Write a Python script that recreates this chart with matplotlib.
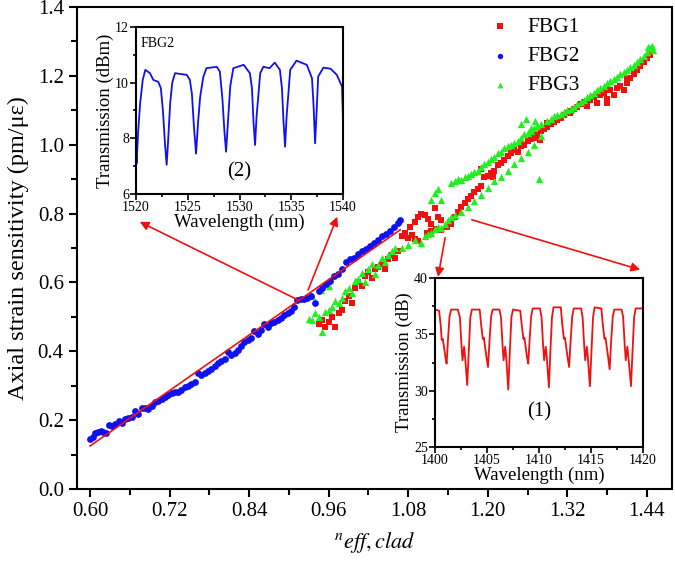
import matplotlib
matplotlib.use('Agg')
import matplotlib.pyplot as plt
from matplotlib.ticker import MultipleLocator, FormatStrFormatter

plt.rcParams['font.family'] = ['Liberation Serif', 'DejaVu Serif']
plt.rcParams['mathtext.fontset'] = 'stix'

# ---- main scatter data ----
fbg2_x = [0.600, 0.604, 0.608, 0.612, 0.616, 0.620, 0.624, 0.628, 0.633, 0.638,
          0.643, 0.648, 0.653, 0.658, 0.663, 0.668, 0.673, 0.678, 0.683, 0.688,
          0.693, 0.698, 0.703, 0.708, 0.713, 0.718, 0.723, 0.728, 0.733, 0.738,
          0.743, 0.748, 0.753, 0.758, 0.763, 0.768, 0.773, 0.778, 0.783, 0.788,
          0.793, 0.798, 0.803, 0.808, 0.813, 0.818, 0.823, 0.828, 0.833, 0.838,
          0.843, 0.848, 0.853, 0.858, 0.863, 0.868, 0.873, 0.878, 0.883, 0.888,
          0.893, 0.898, 0.903, 0.908, 0.913, 0.918, 0.923, 0.928, 0.933, 0.939,
          0.945, 0.950, 0.956, 0.962, 0.968, 0.974, 0.980, 0.986, 0.992, 0.998,
          1.004, 1.010, 1.016, 1.022, 1.028, 1.034, 1.040, 1.046, 1.052, 1.058,
          1.064, 1.068]
fbg2_y = [0.146, 0.150, 0.162, 0.166, 0.168, 0.166, 0.164, 0.186, 0.183, 0.190,
          0.197, 0.193, 0.202, 0.205, 0.208, 0.228, 0.218, 0.235, 0.236, 0.233,
          0.242, 0.252, 0.256, 0.262, 0.266, 0.272, 0.278, 0.283, 0.281, 0.288,
          0.297, 0.300, 0.306, 0.312, 0.338, 0.330, 0.336, 0.344, 0.350, 0.358,
          0.366, 0.372, 0.378, 0.398, 0.390, 0.394, 0.405, 0.416, 0.428, 0.432,
          0.440, 0.458, 0.450, 0.462, 0.478, 0.470, 0.482, 0.484, 0.490, 0.496,
          0.505, 0.512, 0.518, 0.530, 0.548, 0.552, 0.553, 0.556, 0.560, 0.540,
          0.575, 0.585, 0.595, 0.605, 0.618, 0.625, 0.640, 0.660, 0.668, 0.672,
          0.684, 0.690, 0.698, 0.706, 0.716, 0.724, 0.735, 0.742, 0.750, 0.760,
          0.772, 0.780]

fbg1_x = [0.945, 0.950, 0.955, 0.960, 0.965, 0.970, 0.975, 0.980, 0.985, 0.990,
          0.995, 1.000, 1.005, 1.010, 1.015, 1.020, 1.025, 1.030, 1.035, 1.040,
          1.045, 1.050, 1.055, 1.060, 1.065,
          1.070, 1.075, 1.080, 1.085, 1.090, 1.095, 1.082, 1.090, 1.095, 1.100,
          1.105, 1.110, 1.115, 1.120, 1.125, 1.130, 1.108, 1.115, 1.122, 1.130,
          1.138, 1.145,
          1.150, 1.155, 1.160, 1.165, 1.170, 1.175, 1.180, 1.185, 1.190, 1.195,
          1.200, 1.205, 1.210, 1.215, 1.220, 1.225, 1.230, 1.235, 1.240, 1.245,
          1.250, 1.255, 1.260, 1.265, 1.270, 1.275, 1.280, 1.285, 1.290, 1.295,
          1.300, 1.305, 1.310, 1.315, 1.320, 1.325, 1.330, 1.335, 1.340, 1.345,
          1.350, 1.355, 1.360, 1.365, 1.370, 1.375, 1.380, 1.385, 1.390, 1.395,
          1.400, 1.405, 1.410, 1.415, 1.420, 1.425, 1.430, 1.435, 1.440, 1.445,
          1.208, 1.238, 1.279, 1.290, 1.324, 1.380, 1.410, 1.190, 1.165]
fbg1_y = [0.480, 0.492, 0.470, 0.485, 0.500, 0.472, 0.510, 0.520, 0.545, 0.560,
          0.540, 0.585, 0.600, 0.590, 0.620, 0.630, 0.612, 0.640, 0.645, 0.655,
          0.640, 0.668, 0.680, 0.672, 0.690,
          0.735, 0.745, 0.730, 0.738, 0.725, 0.720, 0.760, 0.775, 0.790, 0.800,
          0.795, 0.785, 0.770, 0.815, 0.790, 0.780, 0.745, 0.748, 0.755, 0.752,
          0.760, 0.770,
          0.790, 0.805, 0.820, 0.830, 0.842, 0.850, 0.862, 0.870, 0.880, 0.905,
          0.910, 0.918, 0.925, 0.940, 0.948, 0.955, 0.968, 0.975, 0.985, 0.978,
          0.995, 1.000, 1.010, 1.018, 1.020, 1.030, 1.040, 1.045, 1.052, 1.060,
          1.065, 1.072, 1.078, 1.085, 1.092, 1.098, 1.105, 1.110, 1.118, 1.125,
          1.112, 1.130, 1.138, 1.120, 1.145, 1.150, 1.132, 1.158, 1.145, 1.165,
          1.172, 1.160, 1.180, 1.195, 1.205, 1.218, 1.230, 1.240, 1.252, 1.262,
          0.907, 0.985, 1.015, 1.064, 1.093, 1.120, 1.190, 0.930, 0.830]

fbg3_x = [0.930, 0.935, 0.940, 0.945, 0.950, 0.955, 0.960, 0.965, 0.970, 0.975,
          0.980, 0.985, 0.990, 0.995, 1.000, 1.005, 1.010, 1.015, 1.020, 1.025,
          1.030, 1.035, 1.040, 1.045, 1.050, 1.055, 1.060, 0.935, 0.948, 0.960,
          1.070, 1.080, 1.090, 1.100, 1.105, 1.110, 1.115, 1.120, 1.125, 1.130,
          1.135, 1.140, 1.145, 1.150, 1.160, 1.170, 1.180, 1.190, 1.200, 1.210,
          1.220, 1.230, 1.240, 1.250, 1.260, 1.270, 1.280,
          1.115, 1.120, 1.125, 1.130,
          1.145, 1.150, 1.155, 1.160, 1.165, 1.170, 1.175, 1.180, 1.185, 1.190,
          1.195, 1.200, 1.205, 1.210, 1.215, 1.220, 1.225, 1.230, 1.235, 1.240,
          1.245, 1.250, 1.255, 1.260, 1.265, 1.270, 1.275, 1.280,
          1.250, 1.258, 1.265, 1.272, 1.278,
          1.290, 1.295, 1.300, 1.305, 1.310, 1.315, 1.320, 1.325, 1.330, 1.335,
          1.340, 1.345, 1.350, 1.355, 1.360, 1.365, 1.370, 1.375, 1.380, 1.385,
          1.390, 1.395, 1.400, 1.405, 1.410, 1.415, 1.420, 1.425, 1.430, 1.435,
          1.440, 1.445, 1.448, 1.450, 1.442]
fbg3_y = [0.495, 0.490, 0.510, 0.500, 0.455, 0.515, 0.520, 0.530, 0.545, 0.540,
          0.555, 0.575, 0.585, 0.570, 0.605, 0.610, 0.628, 0.600, 0.640, 0.655,
          0.625, 0.650, 0.670, 0.660, 0.680, 0.690, 0.700, 0.560, 0.578, 0.590,
          0.700, 0.710, 0.722, 0.715, 0.735, 0.740, 0.745, 0.755, 0.760, 0.758,
          0.770, 0.780, 0.790, 0.795, 0.805, 0.820, 0.838, 0.855, 0.875, 0.895,
          0.905, 0.925, 0.945, 0.962, 0.980, 1.000, 1.025,
          0.840, 0.860, 0.870, 0.840,
          0.890, 0.895, 0.900, 0.898, 0.905, 0.910, 0.915, 0.922, 0.925, 0.935,
          0.945, 0.950, 0.960, 0.965, 0.975, 0.980, 0.990, 0.995, 1.000, 1.005,
          1.010, 1.020, 1.030, 1.035, 1.040, 1.048, 1.055, 1.060,
          1.060, 1.075, 1.050, 1.068, 0.900,
          1.068, 1.075, 1.082, 1.085, 1.090, 1.095, 1.100, 1.105, 1.110, 1.118,
          1.125, 1.130, 1.138, 1.145, 1.150, 1.158, 1.165, 1.172, 1.178, 1.185,
          1.192, 1.198, 1.205, 1.212, 1.218, 1.225, 1.232, 1.240, 1.250, 1.258,
          1.268, 1.280, 1.288, 1.275, 1.285]

# linear fit of FBG2 (end points)
fit_x = [0.600, 1.068]
fit_y = [0.125, 0.753]

# ---- inset (2): FBG2 spectrum ----
wl2 = [1520.00, 1520.06, 1520.20, 1520.40, 1520.65, 1520.90, 1521.35, 1521.67, 1522.15,
       1522.40, 1522.60, 1522.80, 1522.96, 1523.10, 1523.30, 1523.50, 1523.77, 1524.90,
       1525.20, 1525.40, 1525.60, 1525.80, 1526.00, 1526.20, 1526.50, 1526.80, 1527.80,
       1528.10, 1528.35, 1528.55, 1528.70, 1528.85, 1529.10, 1529.40, 1530.40, 1531.00,
       1531.20, 1531.35, 1531.50, 1531.65, 1532.00, 1532.30, 1532.90, 1533.40, 1533.90,
       1534.10, 1534.25, 1534.40, 1534.55, 1534.90, 1535.50, 1536.50, 1537.00, 1537.15,
       1537.30, 1537.45, 1537.60, 1538.10, 1538.80, 1539.40, 1539.90, 1540.00]
tr2 = [7.60, 7.10, 8.20, 9.26, 10.10, 10.46, 10.34, 10.10, 10.03,
       9.80, 9.00, 7.80, 7.05, 7.90, 9.26, 10.00, 10.34, 10.28,
       10.10, 9.60, 8.40, 7.45, 8.60, 9.50, 10.20, 10.52, 10.57,
       10.40, 9.40, 8.20, 7.52, 8.40, 9.86, 10.52, 10.64, 10.34,
       9.80, 8.60, 7.76, 8.80, 10.34, 10.57, 10.52, 10.72, 10.46,
       9.80, 8.60, 7.70, 8.80, 10.46, 10.79, 10.64, 10.16, 9.20,
       7.82, 9.00, 10.22, 10.54, 10.50, 10.28, 9.86, 8.66]

# ---- inset (1): FBG1 spectrum ----
wl1 = [1400.00, 1400.40, 1400.55, 1400.65, 1400.75, 1400.85, 1401.00, 1401.12, 1401.25, 1401.40,
       1401.55, 1402.20, 1402.40, 1402.55, 1402.65, 1402.80, 1402.90, 1403.10, 1403.25, 1403.40,
       1403.55, 1404.30, 1404.45, 1404.60, 1404.70, 1404.80, 1404.95, 1405.10, 1405.25, 1405.40,
       1405.55, 1406.20, 1406.35, 1406.50, 1406.60, 1406.75, 1406.85, 1407.05, 1407.20, 1407.35,
       1407.50, 1408.20, 1408.35, 1408.50, 1408.60, 1408.70, 1408.85, 1408.97, 1409.10, 1409.25,
       1409.40, 1410.10, 1410.25, 1410.40, 1410.50, 1410.65, 1410.75, 1410.96, 1411.10, 1411.25,
       1411.40, 1412.10, 1412.25, 1412.40, 1412.50, 1412.60, 1412.75, 1412.90, 1413.05, 1413.20,
       1413.35, 1414.05, 1414.20, 1414.35, 1414.45, 1414.60, 1414.70, 1414.90, 1415.05, 1415.20,
       1415.35, 1416.00, 1416.15, 1416.30, 1416.40, 1416.50, 1416.65, 1416.80, 1416.95, 1417.10,
       1417.25, 1417.95, 1418.10, 1418.25, 1418.35, 1418.50, 1418.60, 1418.85, 1419.00, 1419.15,
       1419.30, 1420.00]
tr1 = [37.2, 37.1, 35.8, 34.5, 34.6, 34.0, 33.0, 32.4, 34.5, 36.6,
       37.2, 37.2, 36.5, 34.0, 32.7, 33.9, 33.0, 30.5, 33.5, 36.5,
       37.2, 37.2, 35.8, 34.6, 34.7, 34.0, 33.0, 32.1, 34.5, 36.6,
       37.2, 37.2, 36.5, 34.0, 32.7, 33.9, 33.0, 30.1, 33.5, 36.5,
       37.2, 37.1, 35.8, 34.6, 34.7, 34.0, 33.0, 32.4, 34.5, 36.6,
       37.3, 37.3, 36.5, 34.0, 32.7, 33.9, 33.0, 30.3, 33.5, 36.5,
       37.4, 37.4, 35.8, 34.6, 34.7, 34.0, 33.0, 32.1, 34.5, 36.6,
       37.3, 37.3, 36.5, 34.0, 32.7, 33.9, 33.0, 30.4, 33.5, 36.5,
       37.4, 37.3, 35.8, 34.6, 34.7, 34.0, 33.0, 31.9, 34.5, 36.6,
       37.2, 37.2, 36.5, 34.0, 32.7, 33.9, 33.0, 30.4, 33.5, 36.5,
       37.3, 37.3]

RED = '#f01010'
BLUE = '#1010f0'
GREEN = '#22ee22'

fig = plt.figure(figsize=(6.75, 5.61), dpi=100)
ax = fig.add_axes([0.1141, 0.1283, 0.8815, 0.8592])

ax.scatter(fbg1_x, fbg1_y, marker='s', s=22, color=RED, linewidths=0, label='FBG1', zorder=2)
ax.scatter(fbg2_x, fbg2_y, marker='o', s=24, color=BLUE, linewidths=0, label='FBG2', zorder=3)
ax.scatter(fbg3_x, fbg3_y, marker='^', s=28, color=GREEN, linewidths=0, label='FBG3', zorder=2)
ax.plot(fit_x, fit_y, color=RED, lw=1.2, zorder=4)

ax.set_xlim(0.5804, 1.478)
ax.set_ylim(0, 1.4)
ax.xaxis.set_major_locator(MultipleLocator(0.12))
ax.xaxis.set_minor_locator(MultipleLocator(0.06))
ax.yaxis.set_major_locator(MultipleLocator(0.2))
ax.yaxis.set_minor_locator(MultipleLocator(0.1))
ax.xaxis.set_major_formatter(FormatStrFormatter('%.2f'))
ax.yaxis.set_major_formatter(FormatStrFormatter('%.1f'))
ax.tick_params(which='both', direction='out', top=False, right=False, labelsize=15, width=1.5)
ax.tick_params(which='major', length=6)
ax.tick_params(which='minor', length=4)
for sp in ax.spines.values():
    sp.set_linewidth(1.5)

ax.set_ylabel('Axial strain sensitivity (pm/\u03bc\u03b5)', fontsize=17.5, labelpad=6)
ax.set_xlabel(r'$^{n}eff,clad$', fontsize=16, labelpad=6)

leg = ax.legend(loc='upper left', bbox_to_anchor=(0.679, 0.997), frameon=False,
                fontsize=15.5, handlelength=1.0, handletextpad=0.76, labelspacing=0.42,
                markerscale=0.8, borderaxespad=0)

# arrows from the data to the insets
arr = dict(arrowstyle='-|>', color=RED, lw=1.2, mutation_scale=13, shrinkA=0, shrinkB=0)
ax.annotate('', xy=(0.675, 0.776), xytext=(0.914, 0.549), arrowprops=arr, zorder=5)
ax.annotate('', xy=(0.973, 0.791), xytext=(0.929, 0.578), arrowprops=arr, zorder=5)
ax.annotate('', xy=(1.125, 0.616), xytext=(1.1357, 0.730), arrowprops=arr, zorder=5)
ax.annotate('', xy=(1.430, 0.637), xytext=(1.176, 0.782), arrowprops=arr, zorder=5)

# inset (2)
ax2 = fig.add_axes([0.2015, 0.6542, 0.3067, 0.2977])
ax2.plot(wl2, tr2, color=BLUE, lw=1.3)
ax2.set_xlim(1520, 1540)
ax2.set_ylim(6, 12)
ax2.xaxis.set_major_locator(MultipleLocator(5))
ax2.xaxis.set_minor_locator(MultipleLocator(2.5))
ax2.yaxis.set_major_locator(MultipleLocator(2))
ax2.yaxis.set_minor_locator(MultipleLocator(1))
ax2.tick_params(which='both', direction='out', labelsize=10, width=1.2, pad=1)
ax2.tick_params(which='major', length=4)
ax2.tick_params(which='minor', length=2.5)
for sp in ax2.spines.values():
    sp.set_linewidth(1.5)
ax2.set_xlabel('Wavelength (nm)', fontsize=13.5, labelpad=0)
ax2.set_ylabel('Transmission (dBm)', fontsize=13.5, labelpad=1)
ax2.text(0.02, 0.94, 'FBG2', transform=ax2.transAxes, fontsize=10, va='top')
ax2.text(0.5, 0.13, '(2)', transform=ax2.transAxes, fontsize=15, ha='center', va='center')

# inset (1)
ax1 = fig.add_axes([0.6444, 0.2032, 0.3081, 0.3012])
ax1.plot(wl1, tr1, color=RED, lw=1.3)
ax1.set_xlim(1400, 1420)
ax1.set_ylim(25, 40)
ax1.xaxis.set_major_locator(MultipleLocator(5))
ax1.xaxis.set_minor_locator(MultipleLocator(2.5))
ax1.yaxis.set_major_locator(MultipleLocator(5))
ax1.yaxis.set_minor_locator(MultipleLocator(2.5))
ax1.tick_params(which='both', direction='out', labelsize=10, width=1.2, pad=1)
ax1.tick_params(which='major', length=4)
ax1.tick_params(which='minor', length=2.5)
for sp in ax1.spines.values():
    sp.set_linewidth(1.5)
ax1.set_xlabel('Wavelength (nm)', fontsize=13.5, labelpad=0)
ax1.set_ylabel('Transmission (dB)', fontsize=13.5, labelpad=1)
ax1.text(0.5, 0.21, '(1)', transform=ax1.transAxes, fontsize=15, ha='center', va='center')

fig.savefig('out.png', dpi=100)
